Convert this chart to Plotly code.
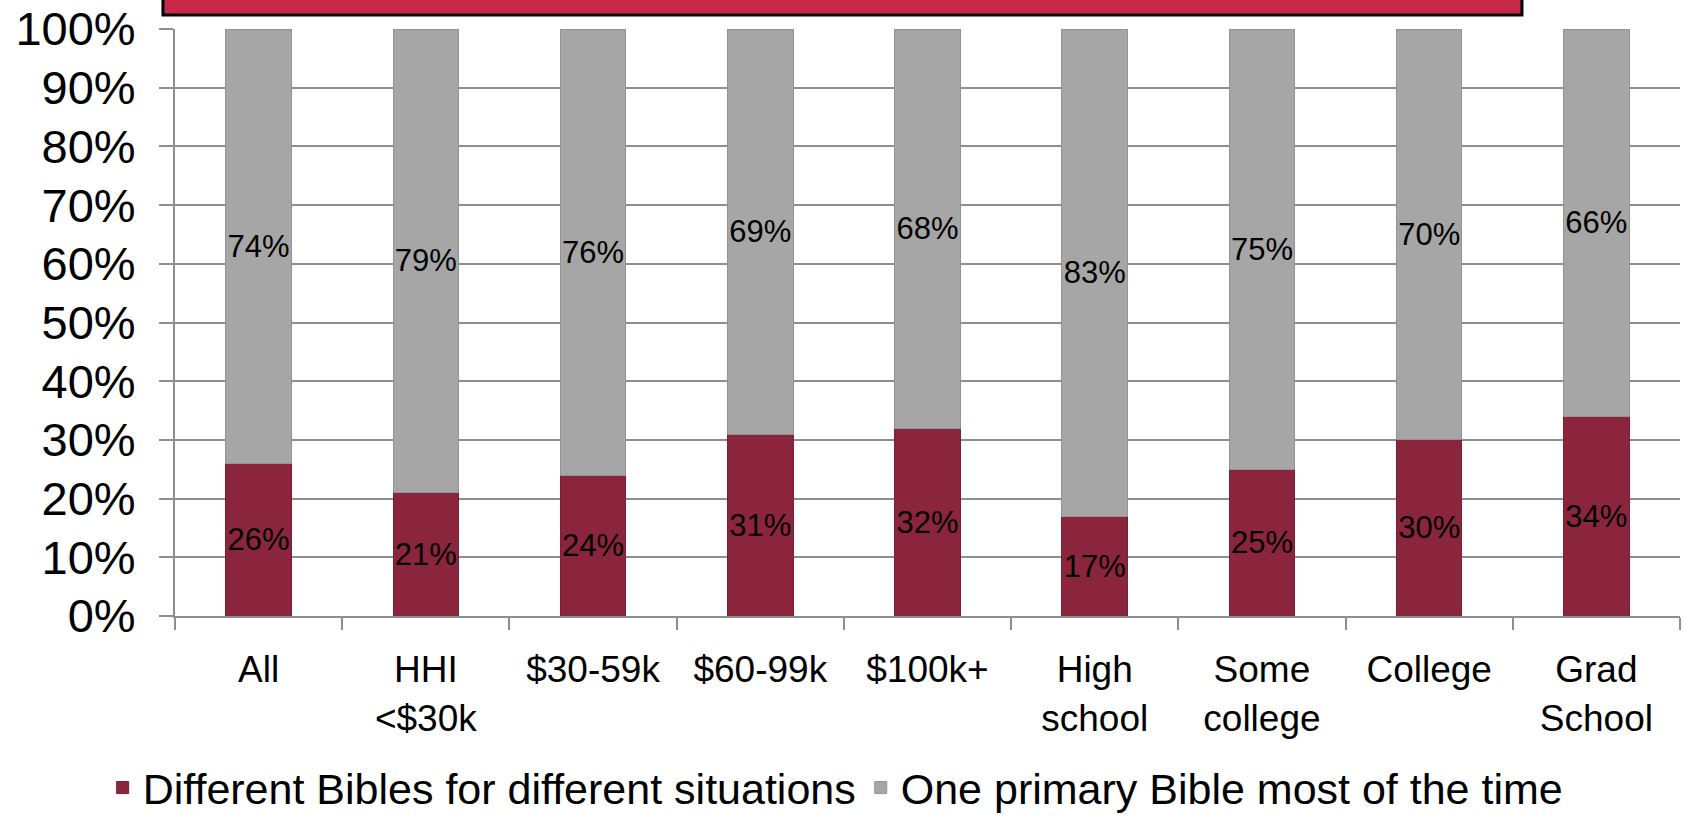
import plotly.graph_objects as go

categories = ["All", "HHI<br><$30k", "$30-59k", "$60-99k", "$100k+", "High<br>school",
              "Some<br>college", "College", "Grad<br>School"]
different_bibles = [26, 21, 24, 31, 32, 17, 25, 30, 34]
one_primary = [74, 79, 76, 69, 68, 83, 75, 70, 66]
y_tick_vals = [0, 10, 20, 30, 40, 50, 60, 70, 80, 90, 100]
y_tick_text = [f"{v}%" for v in y_tick_vals]

FONT = "Liberation Sans, Arial, sans-serif"

fig = go.Figure()
fig.add_trace(go.Bar(
    name="Different Bibles for different situations",
    x=categories, y=different_bibles,
    marker=dict(color="#8B253D", line=dict(color="#7A1F34", width=1)),
    text=[f"{v}%" for v in different_bibles],
    textposition="inside", insidetextanchor="middle", textangle=0,
    textfont=dict(family=FONT, size=31, color="black"),
    constraintext="none", cliponaxis=False,
))
fig.add_trace(go.Bar(
    name="One primary Bible most of the time",
    x=categories, y=one_primary,
    marker=dict(color="#A6A6A6", line=dict(color="#939393", width=1)),
    text=[f"{v}%" for v in one_primary],
    textposition="inside", insidetextanchor="middle", textangle=0,
    textfont=dict(family=FONT, size=31, color="black"),
    constraintext="none", cliponaxis=False,
))

fig.update_layout(
    barmode="stack",
    bargap=0.608,
    width=1683, height=817,
    margin=dict(l=175, r=3, t=29, b=201),
    plot_bgcolor="white", paper_bgcolor="white",
    font=dict(family=FONT, color="black"),
    showlegend=True,
    legend=dict(orientation="h", xref="container", x=0.061, xanchor="left",
                yref="container", y=0.036, yanchor="middle",
                font=dict(family=FONT, size=43), traceorder="normal",
                itemclick=False),
)
fig.update_xaxes(
    automargin=False,
    showline=True, linecolor="#8E8E8E", linewidth=2,
    ticks="outside", tickson="boundaries", ticklen=12, tickcolor="#8E8E8E", tickwidth=2,
    tickfont=dict(family=FONT, size=37, color="black"),
    ticklabelstandoff=20,
    showgrid=False,
)
fig.update_yaxes(
    automargin=False,
    range=[0, 100], tickvals=y_tick_vals, ticktext=y_tick_text,
    showline=True, linecolor="#8E8E8E", linewidth=2,
    ticks="outside", ticklen=14, tickcolor="#8E8E8E", tickwidth=2,
    ticklabelstandoff=14,
    showgrid=True, gridcolor="#8E8E8E", gridwidth=2,
    tickfont=dict(family=FONT, size=47, color="black"),
    zeroline=False,
)

# title banner (cut off at the top of the picture)
fig.add_shape(type="rect", xref="paper", yref="paper",
              x0=-0.008, x1=0.895, y0=1.024, y1=1.06,
              fillcolor="#C8284A", line=dict(color="black", width=3), layer="above")

fig.write_html("out.html", config={"displayModeBar": False},
               post_script="document.body.style.margin='0';")
